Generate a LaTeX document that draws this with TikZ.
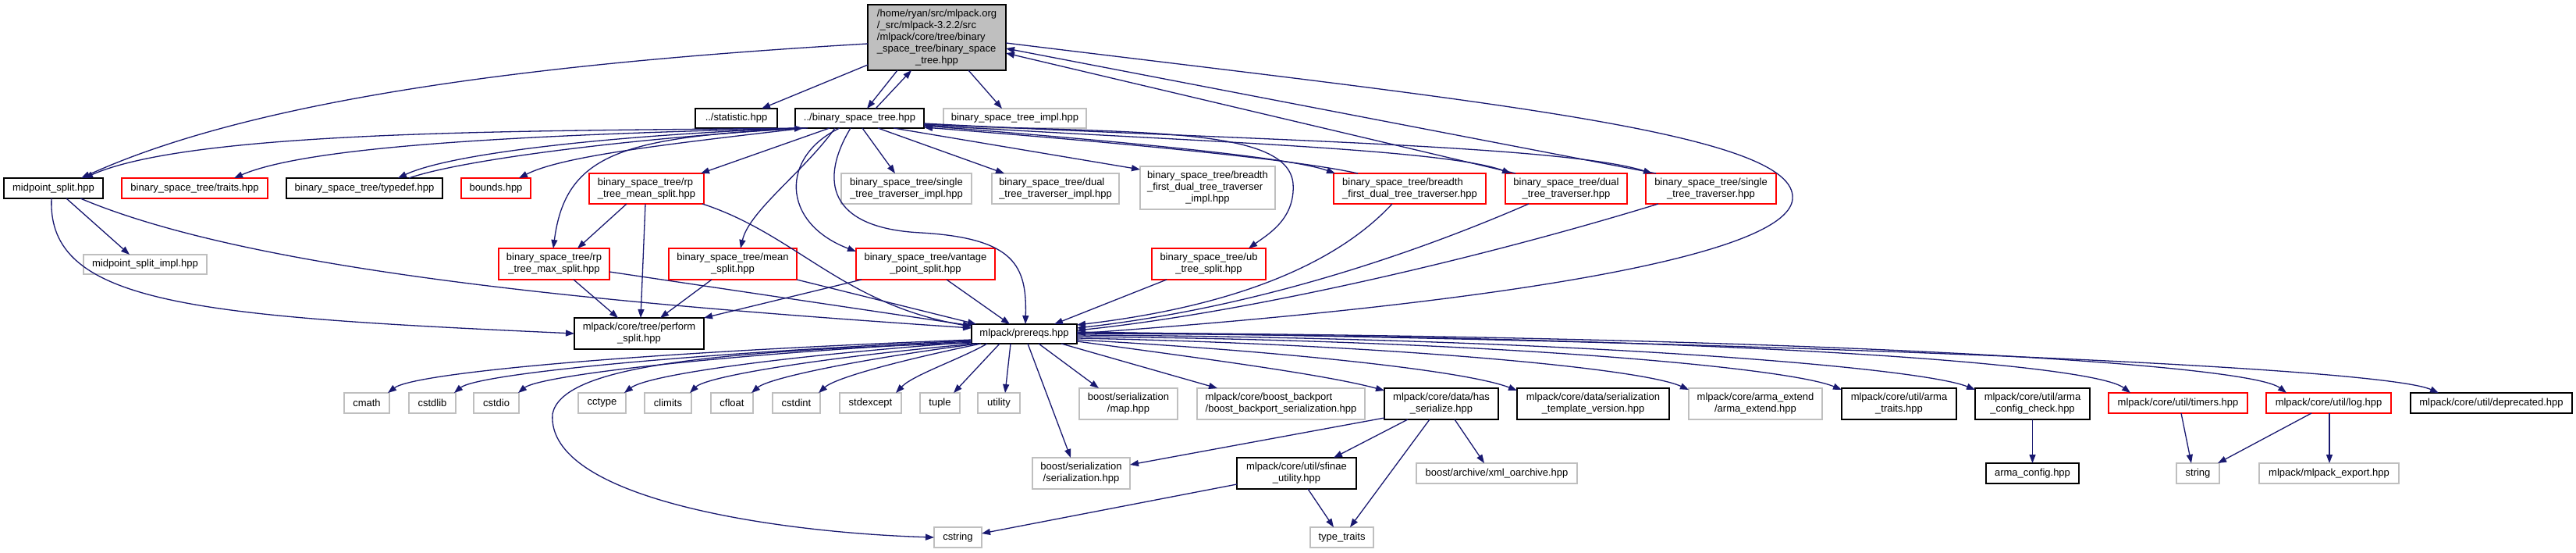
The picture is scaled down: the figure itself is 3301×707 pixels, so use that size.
\documentclass[tikz,border=0pt]{standalone}
\usepackage{fontspec}
\usetikzlibrary{arrows.meta,calc}
\newfontfamily\nfam{Liberation Sans}
\newcommand\nf{\nfam\fontsize{13}{15}\selectfont}
\newcommand\lns[2]{\begin{tabular}{@{}l@{}}#1\\\multicolumn{1}{@{}c@{}}{#2}\end{tabular}}
\definecolor{gry}{HTML}{BFBFBF}
\definecolor{edgec}{HTML}{191970}
\tikzset{
 nd/.style={rectangle, inner sep=0pt, outer sep=0pt, align=center, font=\nf, line width=1.3pt, text=black},
 bk/.style={nd, draw=black},
 rd/.style={nd, draw=red},
 gy/.style={nd, draw=gry},
 mw/.style={minimum width=#1pt},
 mh/.style={minimum height=#1pt},
 ed/.style={draw=edgec, line width=1.3pt, -{Triangle[length=11pt,width=8pt]}},
}
\begin{document}
\begin{tikzpicture}[x=1pt,y=-1pt]
\fill[white] (0,0) rectangle (3301,707);
\useasboundingbox (0,0) rectangle (3301,707);
% rows 0-1
\node[bk, fill=gry, mw=177, mh=84] (root) at (1200.5,48) {\lns{/home/ryan/src/mlpack.org\\/\_src/mlpack-3.2.2/src\\/mlpack/core/tree/binary\\\_space\_tree/binary\_space}{\_tree.hpp}};
\node[bk, mw=105, mh=25] (stat) at (943.5,151.5) {../statistic.hpp};
\node[bk, mw=165, mh=25] (bst) at (1101.5,151.5) {../binary\_space\_tree.hpp};
\node[gy, mw=183, mh=25] (impl) at (1300.5,151.5) {binary\_space\_tree\_impl.hpp};
% row 2
\node[bk, mw=127, mh=26] (ms) at (68.5,241) {midpoint\_split.hpp};
\node[rd, mw=187, mh=26] (traits) at (249.5,241) {binary\_space\_tree/traits.hpp};
\node[bk, mw=200, mh=26] (typedef) at (467,241) {binary\_space\_tree/typedef.hpp};
\node[rd, mw=89, mh=26] (bounds) at (635.5,241) {bounds.hpp};
\node[rd, mw=147, mh=39] (rpmean) at (828.5,241.5) {\lns{binary\_space\_tree/rp}{\_tree\_mean\_split.hpp}};
\node[gy, mw=167, mh=39] (sttimpl) at (1161.5,241.5) {\lns{binary\_space\_tree/single}{\_tree\_traverser\_impl.hpp}};
\node[gy, mw=163, mh=39] (dttimpl) at (1352.5,241.5) {\lns{binary\_space\_tree/dual}{\_tree\_traverser\_impl.hpp}};
\node[gy, mw=173, mh=55] (bfimpl) at (1547.5,240.5) {\lns{binary\_space\_tree/breadth\\\_first\_dual\_tree\_traverser}{\_impl.hpp}};
\node[rd, mw=195, mh=39] (bf) at (1806.5,241.5) {\lns{binary\_space\_tree/breadth}{\_first\_dual\_tree\_traverser.hpp}};
\node[rd, mw=156, mh=39] (dtt) at (2007,241.5) {\lns{binary\_space\_tree/dual}{\_tree\_traverser.hpp}};
\node[rd, mw=167, mh=39] (stt) at (2192.5,241.5) {\lns{binary\_space\_tree/single}{\_tree\_traverser.hpp}};
% row 3
\node[gy, mw=158, mh=25] (msimpl) at (186,338.5) {midpoint\_split\_impl.hpp};
\node[rd, mw=142, mh=40] (rpmax) at (710,338) {\lns{binary\_space\_tree/rp}{\_tree\_max\_split.hpp}};
\node[rd, mw=164, mh=40] (meansplit) at (939,338) {\lns{binary\_space\_tree/mean}{\_split.hpp}};
\node[rd, mw=178, mh=40] (vantage) at (1186,338) {\lns{binary\_space\_tree/vantage}{\_point\_split.hpp}};
\node[rd, mw=146, mh=40] (ub) at (1549,338) {\lns{binary\_space\_tree/ub}{\_tree\_split.hpp}};
% row 4
\node[bk, mw=166, mh=40] (perform) at (819,427) {\lns{mlpack/core/tree/perform}{\_split.hpp}};
\node[bk, mw=135, mh=25] (prereqs) at (1312.5,427.5) {mlpack/prereqs.hpp};
% row 5
\node[gy, mw=58, mh=26] (cmath) at (470,516) {cmath};
\node[gy, mw=60, mh=26] (cstdlib) at (554,516) {cstdlib};
\node[gy, mw=58, mh=26] (cstdio) at (636,516) {cstdio};
\node[gy, mw=61, mh=26] (cctype) at (771.5,516) {cctype};
\node[gy, mw=60, mh=26] (climits) at (856,516) {climits};
\node[gy, mw=54, mh=26] (cfloat) at (938,516) {cfloat};
\node[gy, mw=61, mh=26] (cstdint) at (1020.5,516) {cstdint};
\node[gy, mw=79, mh=26] (stdexcept) at (1115.5,516) {stdexcept};
\node[gy, mw=51, mh=26] (tuple) at (1204.5,516) {tuple};
\node[gy, mw=54, mh=26] (utility) at (1280,516) {utility};
\node[gy, mw=126, mh=40] (map) at (1446,517) {\lns{boost/serialization}{/map.hpp}};
\node[gy, mw=215, mh=40] (backport) at (1641.5,517) {\lns{mlpack/core/boost\_backport}{/boost\_backport\_serialization.hpp}};
\node[bk, mw=146, mh=40] (hasser) at (1847,517) {\lns{mlpack/core/data/has}{\_serialize.hpp}};
\node[bk, mw=195, mh=40] (sertmpl) at (2041.5,517) {\lns{mlpack/core/data/serialization}{\_template\_version.hpp}};
\node[gy, mw=171, mh=40] (armaext) at (2249.5,517) {\lns{mlpack/core/arma\_extend}{/arma\_extend.hpp}};
\node[bk, mw=147, mh=40] (armatraits) at (2433.5,517) {\lns{mlpack/core/util/arma}{\_traits.hpp}};
\node[bk, mw=147, mh=40] (armacfgchk) at (2604.5,517) {\lns{mlpack/core/util/arma}{\_config\_check.hpp}};
\node[rd, mw=178, mh=26] (timers) at (2791,516) {mlpack/core/util/timers.hpp};
\node[rd, mw=160, mh=26] (log) at (2984,516) {mlpack/core/util/log.hpp};
\node[bk, mw=207, mh=26] (deprecated) at (3192.5,516) {mlpack/core/util/deprecated.hpp};
% row 6
\node[gy, mw=125, mh=40] (ser) at (1385.5,606) {\lns{boost/serialization}{/serialization.hpp}};
\node[bk, mw=153, mh=40] (sfinae) at (1661.5,606) {\lns{mlpack/core/util/sfinae}{\_utility.hpp}};
\node[gy, mw=206, mh=26] (xml) at (1918,606) {boost/archive/xml\_oarchive.hpp};
\node[bk, mw=119, mh=26] (armacfg) at (2604.5,606) {arma\_config.hpp};
\node[gy, mw=55, mh=26] (string) at (2816.5,606) {string};
\node[gy, mw=179, mh=26] (mlexport) at (2984.5,606) {mlpack/mlpack\_export.hpp};
% row 7
\node[gy, mw=61, mh=26] (cstring) at (1227.5,688) {cstring};
\node[gy, mw=81, mh=26] (typetraits) at (1719.5,688) {type\_traits};

% ---- edges from root
\draw[ed] ($(root.north west)+(0,77)$) -- ($(stat.north west)+(85,0)$);
\draw[ed] ($(root.south west)+(38,0)$) -- ($(bst.north west)+(92,0)$);
\draw[ed] ($(bst.north west)+(103,0)$) -- ($(root.south west)+(56,0)$);
\draw[ed] ($(root.south west)+(129,0)$) -- ($(impl.north west)+(75,0)$);
\draw[ed] ($(root.north west)+(0,50)$) .. controls (700,80) and (330,125) .. ($(ms.north west)+(99,0)$);
\draw[ed] ($(root.north east)+(0,49)$) .. controls (1900,130) and (2305,170) .. (2297,255) .. controls (2290,330) and (1900,390) .. ($(prereqs.north east)+(0,12)$);
% ---- edges from bst (left side)
\draw[ed] ($(bst.south west)+(4,0)$) .. controls (700,168) and (250,165) .. ($(ms.north west)+(103,0)$);
\draw[ed] ($(bst.south west)+(6,0)$) .. controls (700,172) and (400,185) .. ($(traits.north west)+(144,0)$);
\draw[ed] ($(bst.south west)+(8,0)$) .. controls (800,172) and (580,195) .. ($(typedef.north west)+(143,0)$);
\draw[ed] ($(typedef.north west)+(157,0)$) .. controls (590,205) and (800,178) .. ($(bst.south west)+(10,0)$);
\draw[ed] ($(bst.south west)+(12,0)$) .. controls (850,185) and (720,200) .. ($(bounds.north west)+(74,0)$);
\draw[ed] ($(bst.south west)+(16,0)$) .. controls (800,175) and (725,195) .. ($(rpmax.north west)+(70,0)$);
\draw[ed] ($(bst.south west)+(44,0)$) -- ($(rpmean.north west)+(143,0)$);
\draw[ed] ($(bst.south west)+(51,0)$) .. controls (1030,220) and (960,270) .. ($(meansplit.north west)+(92,0)$);
\draw[ed] ($(bst.south west)+(57,0)$) .. controls (1000,200) and (1000,285) .. ($(vantage.north west)+(0,4)$);
\draw[ed] ($(bst.south west)+(71,0)$) .. controls (1050,230) and (1060,292) .. (1180,298) .. controls (1300,305) and (1316,340) .. ($(prereqs.north west)+(69,0)$);
\draw[ed] ($(bst.south west)+(86,0)$) -- ($(sttimpl.north west)+(69,0)$);
\draw[ed] ($(bst.south west)+(106,0)$) -- ($(dttimpl.north west)+(16,0)$);
\draw[ed] ($(bst.south west)+(126,0)$) -- ($(bfimpl.north west)+(0,4)$);
% ---- edges from bst (right side)
\draw[ed] ($(bst.north east)+(0,20)$) .. controls (1450,172) and (1650,160) .. (1657,235) .. controls (1660,280) and (1625,300) .. ($(ub.north west)+(124,0)$);
\draw[ed] ($(bst.north east)+(0,22)$) .. controls (1400,178) and (1650,200) .. ($(bf.north west)+(2,0)$);
\draw[ed] ($(bf.north west)+(31,0)$) .. controls (1650,202) and (1400,180) .. ($(bst.north east)+(0,24)$);
\draw[ed] ($(bst.north east)+(0,21)$) .. controls (1500,180) and (1850,190) .. ($(dtt.north west)+(7,0)$);
\draw[ed] ($(bst.north east)+(0,19)$) .. controls (1550,178) and (2000,185) .. ($(stt.north west)+(8,0)$);
\draw[ed] ($(dtt.north west)+(13,0)$) -- ($(root.north east)+(0,62)$);
\draw[ed] ($(stt.north west)+(13,0)$) -- ($(root.north east)+(0,56)$);
% ---- row 2/3 edges
\draw[ed] ($(ms.south west)+(80,0)$) -- ($(msimpl.north west)+(59,0)$);
\draw[ed] ($(ms.south west)+(61,0)$) .. controls (60,390) and (250,405) .. ($(perform.north west)+(0,20)$);
\draw[ed] ($(ms.south west)+(98,0)$) .. controls (330,350) and (800,390) .. ($(prereqs.north west)+(0,5)$);
\draw[ed] ($(rpmean.south west)+(48,0)$) -- ($(rpmax.north west)+(101,0)$);
\draw[ed] ($(rpmean.south west)+(72,0)$) -- ($(perform.north west)+(85,0)$);
\draw[ed] ($(rpmean.south west)+(145,0)$) .. controls (1020,300) and (1080,390) .. ($(prereqs.north west)+(0,3)$);
\draw[ed] ($(rpmax.south west)+(96,0)$) -- ($(perform.north west)+(56,0)$);
\draw[ed] ($(rpmax.north east)+(0,30)$) -- ($(prereqs.north west)+(0,2)$);
\draw[ed] ($(meansplit.south west)+(55,0)$) -- ($(perform.north west)+(110,0)$);
\draw[ed] (meansplit.south east) -- ($(prereqs.north west)+(6,0)$);
\draw[ed] ($(vantage.south west)+(7,0)$) -- (perform.north east);
\draw[ed] ($(vantage.south west)+(116,0)$) -- ($(prereqs.north west)+(49,0)$);
\draw[ed] ($(ub.south west)+(19,0)$) -- ($(prereqs.north west)+(106,0)$);
\draw[ed] ($(bf.south west)+(75,0)$) .. controls (1720,330) and (1600,390) .. ($(prereqs.north east)+(0,1)$);
\draw[ed] ($(dtt.south west)+(30,0)$) .. controls (1800,330) and (1600,395) .. ($(prereqs.north east)+(0,5)$);
\draw[ed] ($(stt.south west)+(16,0)$) .. controls (1900,330) and (1600,400) .. ($(prereqs.north east)+(0,8)$);
% ---- prereqs outgoing
\draw[ed] ($(prereqs.north west)+(0,20)$) .. controls (800,452) and (530,478) .. ($(cmath.north east)+(-2,0)$);
\draw[ed] ($(prereqs.north west)+(0,21)$) .. controls (850,454) and (610,480) .. ($(cstdlib.north east)+(-2,0)$);
\draw[ed] ($(prereqs.north west)+(0,22)$) .. controls (900,455) and (690,482) .. ($(cstdio.north east)+(-1,0)$);
\draw[ed] ($(prereqs.north west)+(0,23)$) .. controls (1000,456) and (830,480) .. ($(cctype.north east)+(-2,0)$);
\draw[ed] ($(prereqs.south west)+(4,0)$) .. controls (1050,458) and (905,482) .. ($(climits.north east)+(-2,0)$);
\draw[ed] ($(prereqs.south west)+(8,0)$) .. controls (1100,460) and (985,484) .. ($(cfloat.north east)+(-2,0)$);
\draw[ed] ($(prereqs.south west)+(12,0)$) .. controls (1150,462) and (1070,484) .. ($(cstdint.north east)+(-2,0)$);
\draw[ed] ($(prereqs.south west)+(20,0)$) .. controls (1230,460) and (1170,480) .. ($(stdexcept.north east)+(-7,0)$);
\draw[ed] ($(prereqs.south west)+(36,0)$) -- ($(tuple.north east)+(-8,0)$);
\draw[ed] ($(prereqs.south west)+(50,0)$) -- ($(utility.north east)+(-19,0)$);
\draw[ed] ($(prereqs.south west)+(72,0)$) -- ($(ser.north west)+(49,0)$);
\draw[ed] ($(prereqs.north west)+(0,24)$) .. controls (900,450) and (720,470) .. (708,530) .. controls (700,640) and (1000,682) .. ($(cstring.north west)+(0,13)$);
\draw[ed] ($(prereqs.south west)+(86,0)$) -- ($(map.north west)+(25,0)$);
\draw[ed] ($(prereqs.south west)+(115,0)$) -- ($(backport.north west)+(26,0)$);
\draw[ed] ($(prereqs.north east)+(0,22)$) .. controls (1550,460) and (1700,480) .. ($(hasser.north west)+(0,3)$);
\draw[ed] ($(prereqs.north east)+(0,20)$) .. controls (1650,450) and (1880,475) .. ($(sertmpl.north west)+(0,3)$);
\draw[ed] ($(prereqs.north east)+(0,18)$) .. controls (1750,440) and (2100,470) .. ($(armaext.north west)+(0,2)$);
\draw[ed] ($(prereqs.north east)+(0,16)$) .. controls (1900,435) and (2290,470) .. ($(armatraits.north west)+(0,2)$);
\draw[ed] ($(prereqs.north east)+(0,14)$) .. controls (2000,432) and (2460,470) .. ($(armacfgchk.north west)+(0,2)$);
\draw[ed] ($(prereqs.north east)+(0,12)$) .. controls (2200,430) and (2680,465) .. ($(timers.north west)+(28,0)$);
\draw[ed] ($(prereqs.north east)+(0,11)$) .. controls (2300,430) and (2880,465) .. ($(log.north west)+(26,0)$);
\draw[ed] ($(prereqs.north east)+(0,10)$) .. controls (2300,438) and (3050,470) .. ($(deprecated.north west)+(36,0)$);
% ---- lower edges
\draw[ed] ($(hasser.north west)+(0,38)$) -- ($(ser.north east)+(0,9)$);
\draw[ed] ($(hasser.south west)+(30,0)$) -- ($(sfinae.north west)+(124,0)$);
\draw[ed] ($(hasser.south west)+(58,0)$) -- ($(typetraits.north west)+(51,0)$);
\draw[ed] ($(hasser.south west)+(90,0)$) -- ($(xml.north west)+(87,0)$);
\draw[ed] ($(sfinae.north west)+(0,34)$) -- ($(cstring.north east)+(0,8)$);
\draw[ed] ($(sfinae.south west)+(91,0)$) -- ($(typetraits.north west)+(30,0)$);
\draw[ed] (armacfgchk.south) -- (armacfg.north);
\draw[ed] ($(timers.south west)+(93,0)$) -- ($(string.north west)+(19,0)$);
\draw[ed] ($(log.south west)+(58,0)$) -- ($(string.north east)+(-2,0)$);
\draw[ed] ($(log.south west)+(81,0)$) -- ($(mlexport.north west)+(90,0)$);
\end{tikzpicture}
\end{document}
